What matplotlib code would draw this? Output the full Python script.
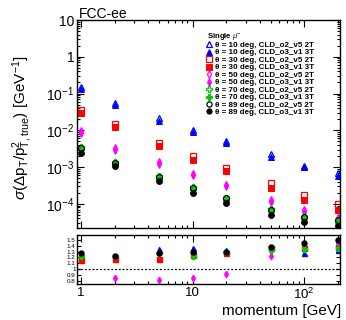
import numpy as np
import matplotlib
matplotlib.use("Agg")
import matplotlib.pyplot as plt
from matplotlib.ticker import LogLocator, NullFormatter, FixedLocator
from matplotlib import font_manager

plt.rcParams['font.family'] = ['Liberation Sans', 'DejaVu Sans']
plt.rcParams['mathtext.fontset'] = 'custom'
plt.rcParams['mathtext.rm'] = 'Liberation Sans'
plt.rcParams['mathtext.it'] = 'Liberation Sans:italic'

names = {f.name for f in font_manager.fontManager.ttflist}
leg_family = 'Liberation Sans Narrow' if 'Liberation Sans Narrow' in names else 'Liberation Sans'

momentum = [1, 2, 5, 10, 20, 50, 100, 200]

# sigma(dpT/pT^2) per angle: open = CLD_o2_v5 2T, filled = CLD_o3_v1 3T
res_10_o2 = [0.15, 0.054, 0.021, 0.010, 0.0050, 0.0022, 0.0011, 0.0007]
res_10_o3 = [0.13, 0.048, 0.018, 0.0088, 0.0044, 0.0019, 0.0010, 0.00057]
res_30_o2 = [0.035, 0.015, 0.0045, 0.0020, 0.00093, 0.00037, 0.00017, 0.0001]
res_30_o3 = [0.029, 0.012, 0.0037, 0.0016, 0.00077, 0.00027, 0.00013, 0.000069]
res_50_o2 = [0.0095, 0.0032, 0.0014, 0.00066, 0.00032, 0.00013, 0.000069, 0.000042]
res_50_o3 = [0.0085, 0.0030, 0.0012, 0.00060, 0.00030, 0.00011, 0.000060, 0.000036]
res_70_o2 = [0.0035, 0.0014, 0.00057, 0.00028, 0.000145, 0.000073, 0.000045, 0.000035]
res_70_o3 = [0.0031, 0.0013, 0.00052, 0.00025, 0.000130, 0.000066, 0.000041, 0.000031]
res_89_o2 = [0.0033, 0.0013, 0.00055, 0.00027, 0.000140, 0.000070, 0.000045, 0.000036]
res_89_o3 = [0.0024, 0.0011, 0.00042, 0.00020, 0.000105, 0.000050, 0.000032, 0.000025]

# ratio panel values
ratio_10 = [1.27, 1.23, 1.35, 1.36, 1.33, 1.37, 1.27, 1.32]
ratio_30 = [1.15, 1.18, 1.17, 1.25, 1.27, 1.36, 1.36, 1.38]
ratio_50 = [0.70, 0.855, 0.82, 0.85, 0.92, 1.22, 1.36, 1.45]
ratio_70 = [1.23, 1.22, 1.27, 1.22, 1.29, 1.32, 1.35, 1.36]
ratio_89 = [1.28, 1.23, 1.28, 1.30, 1.30, 1.38, 1.44, 1.50]

angles = [10, 30, 50, 70, 89]
colors = ['#0000ff', '#ff0000', '#ff00ff', '#00cc00', '#000000']
markers = ['^', 's', 'd', 'P', 'o']
open_sets = [res_10_o2, res_30_o2, res_50_o2, res_70_o2, res_89_o2]
fill_sets = [res_10_o3, res_30_o3, res_50_o3, res_70_o3, res_89_o3]
ratios = [ratio_10, ratio_30, ratio_50, ratio_70, ratio_89]

fig = plt.figure(figsize=(3.46, 3.2), dpi=100)
ax = fig.add_axes([0.2225, 0.2875, 0.7605, 0.65])
axr = fig.add_axes([0.2225, 0.1125, 0.7605, 0.153])

handles = []
labels = []
for ang, c, m, op, fi in zip(angles, colors, markers, open_sets, fill_sets):
    ms = 4.2 if m != 'd' else 4.0
    h1, = ax.plot(momentum, op, linestyle='none', marker=m, ms=ms, mfc='none',
                  mec=c, mew=0.9)
    h2, = ax.plot(momentum, fi, linestyle='none', marker=m, ms=ms, mfc=c,
                  mec=c, mew=0.7)
    handles += [h1, h2]
    labels += ['\u03b8 = %d deg, CLD_o2_v5 2T' % ang,
               '\u03b8 = %d deg, CLD_o3_v1 3T' % ang]

for c, m, r in zip(colors, markers, ratios):
    ms = 3.6 if m != 'd' else 3.2
    axr.plot(momentum, r, linestyle='none', marker=m, ms=ms, mfc=c, mec=c)

axr.axhline(1.0, color='black', ls=(0, (1.5, 1.5)), lw=0.9)

for a in (ax, axr):
    a.set_xscale('log')
    a.set_xlim(0.92, 210)
    a.tick_params(which='both', direction='in', top=True, right=True, width=0.8)
    a.tick_params(which='major', length=5)
    a.tick_params(which='minor', length=2.5)
    for s in a.spines.values():
        s.set_linewidth(1.0)

ax.set_yscale('log')
ax.set_ylim(2.2e-5, 10)
ax.yaxis.set_major_locator(LogLocator(base=10, numticks=12))
ax.yaxis.set_minor_locator(LogLocator(base=10, subs=np.arange(2, 10), numticks=12))
ax.yaxis.set_minor_formatter(NullFormatter())
ax.set_yticks([1e-4, 1e-3, 1e-2, 1e-1, 1, 10])
ax.set_yticklabels([r'$10^{-4}$', r'$10^{-3}$', r'$10^{-2}$', r'$10^{-1}$', '1', '10'])
ax.tick_params(axis='y', labelsize=10, pad=2)
ax.xaxis.set_major_formatter(NullFormatter())
ax.xaxis.set_minor_formatter(NullFormatter())

axr.set_ylim(0.75, 1.58)
axr.yaxis.set_major_locator(FixedLocator([0.8, 0.9, 1.0, 1.1, 1.2, 1.3, 1.4, 1.5]))
axr.set_yticklabels(['0.8', '0.9', '1', '1.1', '1.2', '1.3', '1.4', '1.5'])
axr.tick_params(axis='y', labelsize=4.5, pad=1, length=3)
axr.tick_params(axis='y', which='minor', length=0)
axr.set_xticks([1, 10, 100])
axr.set_xticklabels(['1', '10', r'$10^{2}$'])
axr.xaxis.set_minor_formatter(NullFormatter())
axr.tick_params(axis='x', labelsize=9.5, pad=2)

fig.text(0.985, 0.028, 'momentum [GeV]', ha='right', va='center', fontsize=11)
fig.text(0.065, 0.60,
         r'$\sigma(\Delta\mathrm{p}_{\mathrm{T}}/\mathrm{p}^{2}_{\mathrm{T,true}})$ [GeV$^{-1}$]',
         rotation=90, ha='center', va='center', fontsize=11)
fig.text(0.228, 0.955, 'FCC-ee', ha='left', va='center', fontsize=10)

leg = ax.legend(handles, labels, loc='upper left', bbox_to_anchor=(0.48, 0.965),
                frameon=False, handlelength=0.7, handletextpad=0.3,
                labelspacing=-0.02, borderaxespad=0, markerscale=0.9,
                title=r'Single $\mu^{-}$', title_fontsize=5.6,
                prop={'family': leg_family, 'weight': 'bold', 'size': 5.8})
leg._legend_box.align = 'left'
leg.get_title().set_fontweight('bold')
leg.get_title().set_family(leg_family)

fig.savefig('out.png', dpi=100)
